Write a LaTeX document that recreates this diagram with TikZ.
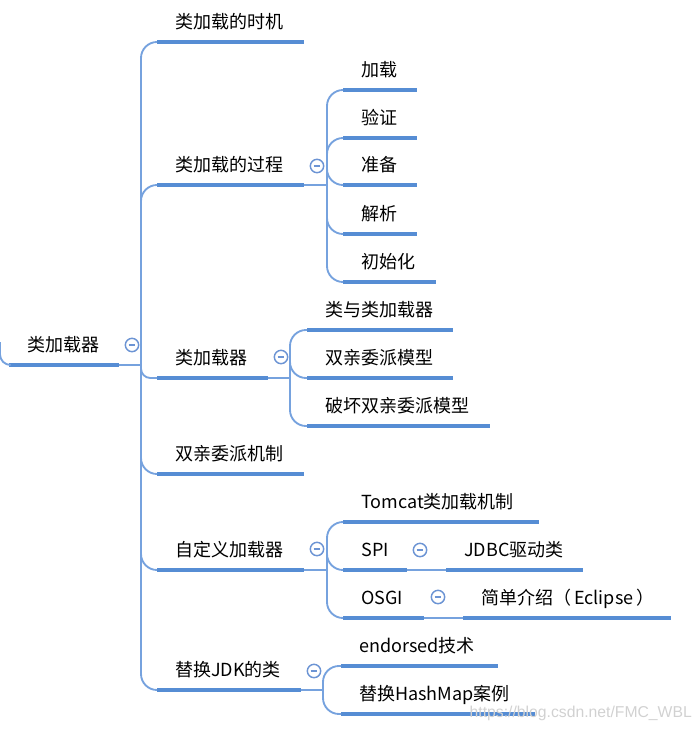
\documentclass[tikz,border=0pt]{standalone}
\usepackage{fontspec}
\setmainfont{Noto Sans CJK SC}
\newfontfamily\wmfont{Liberation Sans}
\definecolor{barblue}{RGB}{86,141,212}
\definecolor{linkblue}{RGB}{118,162,222}
\definecolor{foldblue}{RGB}{108,148,212}

\begin{document}
\begin{tikzpicture}[x=0.75pt, y=-0.75pt,
    topic/.style={anchor=south west, inner xsep=13.5pt, inner ysep=0pt,
      text height=12pt, text depth=9.75pt, font=\fontsize{13.5}{16}\selectfont},
    bar/.style={line width=3pt, barblue},
    link/.style={line width=1.4pt, linkblue},
    branch/.style={link, rounded corners=12pt},
    fold/.style={circle, draw=foldblue, fill=white, line width=1.1pt,
      minimum size=10pt, inner sep=0pt,
      path picture={\draw[foldblue, line width=1pt]
        ([xshift=-2.6pt]path picture bounding box.center) --
        ([xshift=2.6pt]path picture bounding box.center);}},
    wmark/.style={anchor=base west, text=black!18,
      font=\wmfont\fontsize{11.8}{14}\selectfont}
  ]
    \useasboundingbox (0,0) rectangle (696,731);

    % root
    \node[topic] (root) at (9,365) {类加载器};
    \draw[bar] (root.south west) -- ++(110,0) coordinate (roote);
    \coordinate (stub) at (0,342);
    \draw[branch, rounded corners=8pt] (stub) |- (root.south west);
    \draw[link] (roote) -- ++(22,0) coordinate (rootj);

    % first level
    \node[topic] (a1) at (157,42)  {类加载的时机};
    \node[topic] (a2) at (157,185) {类加载的过程};
    \node[topic] (a3) at (157,378) {类加载器};
    \node[topic] (a4) at (157,474) {双亲委派机制};
    \node[topic] (a5) at (157,570) {自定义加载器};
    \node[topic] (a6) at (157,690) {替换JDK的类};
    \draw[bar] (a1.south west) -- ++(147,0);
    \draw[bar] (a2.south west) -- ++(147,0) coordinate (a2e);
    \draw[bar] (a3.south west) -- ++(111,0) coordinate (a3e);
    \draw[bar] (a4.south west) -- ++(147,0);
    \draw[bar] (a5.south west) -- ++(147,0) coordinate (a5e);
    \draw[bar] (a6.south west) -- ++(144,0) coordinate (a6e);
    \foreach \n in {a1,a2,a4,a5,a6}
      \draw[branch] (rootj) |- (\n.south west);
    \draw[branch, rounded corners=7pt] (rootj) |- (a3.south west);

    % loading process
    \node[topic] (b1) at (343,90)  {加载};
    \node[topic] (b2) at (343,138) {验证};
    \node[topic] (b3) at (343,185) {准备};
    \node[topic] (b4) at (343,234) {解析};
    \node[topic] (b5) at (343,282) {初始化};
    \foreach \n in {b1,b2,b3,b4}
      \draw[bar] (\n.south west) -- ++(74,0);
    \draw[bar] (b5.south west) -- ++(93,0);
    \draw[link] (a2e) -- ++(23,0) coordinate (a2j);
    \foreach \n in {b1,b2,b3,b4,b5}
      \draw[branch] (a2j) |- (\n.south west);

    % class loaders
    \node[topic] (c1) at (307,330) {类与类加载器};
    \node[topic] (c2) at (307,378) {双亲委派模型};
    \node[topic] (c3) at (307,426) {破坏双亲委派模型};
    \draw[bar] (c1.south west) -- ++(146,0);
    \draw[bar] (c2.south west) -- ++(146,0);
    \draw[bar] (c3.south west) -- ++(183,0);
    \draw[link] (a3e) -- ++(22,0) coordinate (a3j);
    \foreach \n in {c1,c2,c3}
      \draw[branch] (a3j) |- (\n.south west);

    % custom loaders
    \node[topic] (d1) at (343,522) {Tomcat类加载机制};
    \node[topic] (d2) at (343,570) {SPI};
    \node[topic] (d3) at (343,618) {OSGI};
    \node[topic] (e1) at (446,570) {JDBC驱动类};
    \node[topic] (e2) at (463,618) {简单介绍（\,Eclipse\,）};
    \draw[bar] (d1.south west) -- ++(196,0);
    \draw[bar] (d2.south west) -- ++(64,0) coordinate (d2e);
    \draw[bar] (d3.south west) -- ++(81,0) coordinate (d3e);
    \draw[bar] (e1.south west) -- ++(137,0);
    \draw[bar] (e2.south west) -- ++(208,0);
    \draw[link] (a5e) -- ++(23,0) coordinate (a5j);
    \foreach \n in {d1,d2,d3}
      \draw[branch] (a5j) |- (\n.south west);
    \draw[link] (d2e) -- (e1.south west);
    \draw[link] (d3e) -- (e2.south west);

    % replacing JDK classes
    \node[topic] (f1) at (341,666) {endorsed技术};
    \node[topic] (f2) at (341,714) {替换HashMap案例};
    \draw[bar] (f1.south west) -- ++(157,0);
    \draw[bar] (f2.south west) -- ++(194,0);
    \draw[link] (a6e) -- ++(22,0) coordinate (a6j);
    \foreach \n in {f1,f2}
      \draw[branch] (a6j) |- (\n.south west);

    % collapse buttons
    \node[fold] (rootf) at (132,345) {};
    \node[fold] (a2f) at (317,166) {};
    \node[fold] (a3f) at (281,357) {};
    \node[fold] (a5f) at (317,549) {};
    \node[fold] (d2f) at (420,550) {};
    \node[fold] (d3f) at (438,597) {};
    \node[fold] (a6f) at (314,671) {};

    \node[wmark] (wm) at (465,717) {https://blog.csdn.net/FMC\_WBL};
  \end{tikzpicture}
\end{document}
